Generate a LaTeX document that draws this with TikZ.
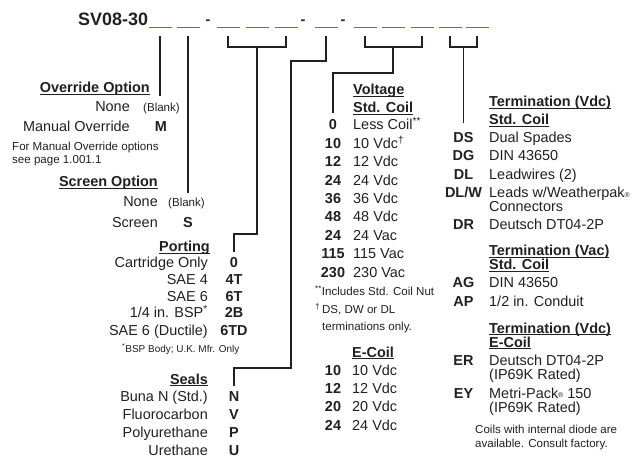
\documentclass[tikz,border=0pt]{standalone}
\usepackage{fontspec}
\setmainfont{Liberation Sans}
\usetikzlibrary{calc}
\definecolor{ink}{HTML}{231F20}
\newsavebox\headbox
\newcommand\ulhead[1]{\sbox\headbox{#1}\rlap{\rule[-2.4pt]{\wd\headbox}{1.1pt}}\usebox\headbox}
\newcommand\regmark{{\fontsize{7}{7}\selectfont\raisebox{1pt}{®}}}
\tikzset{
	txt/.style={font=\fontsize{14.5}{17}\selectfont,text=ink,inner sep=0pt},
	lbl/.style={txt,anchor=base east},
	dsc/.style={txt,anchor=base west},
	code/.style={txt,font=\fontsize{14.5}{17}\selectfont\bfseries,anchor=base},
	head/.style={txt,font=\fontsize{14.5}{17}\selectfont\bfseries},
	note/.style={txt,font=\fontsize{11.6}{13}\selectfont,anchor=base west},
	fine/.style={note,font=\fontsize{10}{12}\selectfont},
	ln/.style={draw=ink,line width=1.2pt},
	blank/.style={draw=gray!80!blue,line width=1pt}
}
\begin{document}
\begin{tikzpicture}[x=1bp,y=-1bp]
		\useasboundingbox (0,0) rectangle (639,459);
		% model code
		\node[head,font=\fontsize{18}{20}\selectfont\bfseries,anchor=base west] (pn) at (78,26) {SV08-30};
		\foreach \x [count=\i] in {160,188,228,257,286,326,365,393,422,450,477}{
			\draw[blank] (\x-11.5,28) -- (\x+11.5,28);
			\coordinate (b\i) at (\x,36);
		}
		\foreach \x [count=\i] in {208,303,343}\node[code] (d\i) at (\x,25) {-};
		% override option
		\node[head,anchor=base east] (oh) at (150,93) {\ulhead{Override Option}};
		\node[lbl] (o1) at (130,112) {None};
		\node[note] (o1b) at (143,112) {(Blank)};
		\node[lbl] (o2) at (130,132) {Manual Override};
		\node[code] (oc) at (161,132) {M};
		\node[note] (on1) at (12,151) {For Manual Override options};
		\node[note] (on2) at (12,164) {see page 1.001.1};
		% screen option
		\node[head,anchor=base east] (sh) at (158,187) {\ulhead{Screen Option}};
		\node[lbl] (s1) at (158,207) {None};
		\node[note] (s1b) at (168,207) {(Blank)};
		\node[lbl] (s2) at (158,228) {Screen};
		\node[code] (sc) at (188,228) {S};
		% porting
		\node[head,anchor=base east] (ph) at (210,252) {\ulhead{Porting}};
		\foreach \c/\t/\y [count=\i] in {0/Cartridge Only/268, 4T/SAE 4/285, 6T/SAE 6/302, 2B/{1/4 in. BSP\textsuperscript{*}}/318, 6TD/SAE 6 (Ductile)/335}{
			\node[lbl] (pt\i) at (208,\y) {\t};
			\node[code] (pc\i) at (234,\y) {\c};
		}
		\node[fine] (pnote) at (122,352) {\textsuperscript{*}BSP Body; U.K. Mfr. Only};
		% seals
		\node[head,anchor=base east] (eh) at (208,384) {\ulhead{Seals}};
		\foreach \c/\t/\y [count=\i] in {N/Buna N (Std.)/401.5, V/Fluorocarbon/419.5, P/Polyurethane/437.5, U/Urethane/455.5}{
			\node[lbl] (et\i) at (208,\y) {\t};
			\node[code] (ec\i) at (234,\y) {\c};
		}
		% voltage
		\node[head,anchor=base west] (vh1) at (353,95) {\ulhead{Voltage}};
		\node[head,anchor=base west] (vh2) at (353,113) {\ulhead{Std. Coil}};
		\foreach \c/\t/\y [count=\i] in {0/Less Coil\textsuperscript{**}/130, 10/10 Vdc\textsuperscript{†}/148.4, 12/12 Vdc/166.8, 24/24 Vdc/185.2, 36/36 Vdc/203.6, 48/48 Vdc/222, 24/24 Vac/240.4, 115/115 Vac/258.8, 230/230 Vac/277.2}{
			\node[code] (vc\i) at (333,\y) {\c};
			\node[dsc] (vt\i) at (353,\y) {\t};
		}
		\node[note] (vn1) at (315,296) {\textsuperscript{**}Includes Std. Coil Nut};
		\node[note] (vn2) at (315,314) {\textsuperscript{†}\,DS, DW or DL};
		\node[note] (vn3) at (322,330) {terminations only.};
		% e-coil
		\node[head,anchor=base west] (xh) at (352,357) {\ulhead{E-Coil}};
		\foreach \c/\y [count=\i] in {10/375, 12/393.3, 20/411.6, 24/430}{
			\node[code] (xc\i) at (333,\y) {\c};
			\node[dsc] (xt\i) at (352,\y) {\c\ Vdc};
		}
		% termination
		\node[head,anchor=base west] (th1) at (489,107) {\ulhead{Termination (Vdc)}};
		\node[head,anchor=base west] (th2) at (489,125) {\ulhead{Std. Coil}};
		\foreach \c/\t/\y [count=\i] in {DS/Dual Spades/143, DG/DIN 43650/161, DL/Leadwires (2)/180, {DL/W}/{Leads w/Weatherpak\regmark}/198, DR/Deutsch DT04-2P/230}{
			\node[code] (tc\i) at (463.5,\y) {\c};
			\node[dsc] (tt\i) at (489,\y) {\t};
		}
		\node[dsc] (tt4b) at (489,212) {Connectors};
		\node[head,anchor=base west] (th3) at (489,256) {\ulhead{Termination (Vac)}};
		\node[head,anchor=base west] (th4) at (489,270) {\ulhead{Std. Coil}};
		\foreach \c/\t/\y [count=\i] in {AG/DIN 43650/288, AP/{1/2 in. Conduit}/307}{
			\node[code] (ac\i) at (463.5,\y) {\c};
			\node[dsc] (at\i) at (489,\y) {\t};
		}
		\node[head,anchor=base west] (th5) at (489,333) {\ulhead{Termination (Vdc)}};
		\node[head,anchor=base west] (th6) at (489,347) {\ulhead{E-Coil}};
		\foreach \c/\t/\y [count=\i] in {ER/Deutsch DT04-2P/365, EY/Metri-Pack\regmark\ 150/398}{
			\node[code] (rc\i) at (463.5,\y) {\c};
			\node[dsc] (rt\i) at (489,\y) {\t};
			\node[dsc] (rr\i) at (489,\y+14.5) {(IP69K Rated)};
		}
		\node[note] (tn1) at (475,433) {Coils with internal diode are};
		\node[note] (tn2) at (475,447) {available. Consult factory.};
		% connectors
		\coordinate (k1) at (257,47);
		\coordinate (k3) at (393,47);
		\coordinate (k4) at (463.5,47);
		\coordinate (q1) at (291,61);
		\coordinate (q2) at (291,368);
		\draw[ln] (b1) -- (b1 |- oh.south);
		\draw[ln] (b2) -- ($(b2 |- sh.south)+(0,3)$);
		\draw[ln] (b3) |- (k1) -| (b5);
		\draw[ln,shorten >=6pt] (k1) -- ++(0,187) -| (pc1.north);
		\draw[ln,shorten >=5pt] (b6) |- (q1) -- (q2) -| (ec1.north);
		\draw[ln] (b7) |- (k3) -| (b9);
		\draw[ln,shorten >=7pt] (k3) -- ++(0,26) -| (vc1.north);
		\draw[ln] (b10) |- (k4) -| (b11);
		\draw[ln,shorten >=10pt] (k4) -- (k4 |- tc1.north);
	\end{tikzpicture}
\end{document}
